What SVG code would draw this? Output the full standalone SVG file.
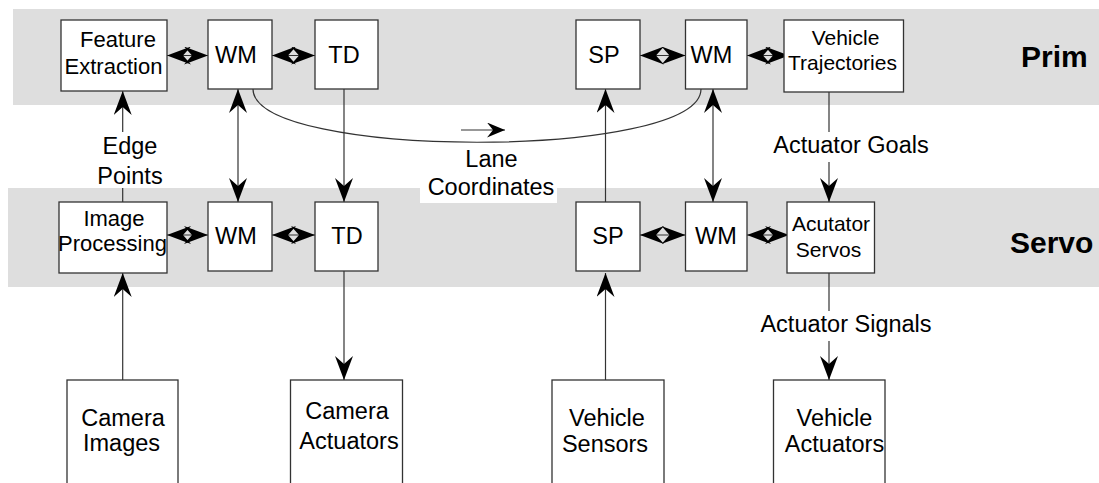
<svg xmlns="http://www.w3.org/2000/svg" width="1099" height="483" viewBox="0 0 1099 483">
  <style>
    .band { fill: #dedede; }
    .box { fill: #ffffff; stroke: #333333; stroke-width: 1.3; }
    .lbl { font-family: "Liberation Sans", Arial, sans-serif; font-size: 23.5px; fill: #000000; text-anchor: middle; }
    .sm { font-size: 21px; }
    .md { font-size: 22px; }
    .lvl { font-family: "Liberation Sans", Arial, sans-serif; font-size: 30px; font-weight: bold; fill: #000000; }
    .wire { fill: none; stroke: #333333; stroke-width: 1.2; }
    .arr { marker-end: url(#head); }
    .bi { marker-start: url(#head); marker-end: url(#head); }
  </style>
  <defs>
    <marker id="head" viewBox="0 -9 24 18" refX="24" refY="0" markerWidth="24" markerHeight="18" markerUnits="userSpaceOnUse" orient="auto-start-reverse">
      <path d="M0,-9 L24,0 L0,9 L8,0 Z" fill="#000000"/>
    </marker>
    <marker id="headS" viewBox="0 -7.5 18 15" refX="18" refY="0" markerWidth="18" markerHeight="15" markerUnits="userSpaceOnUse" orient="auto">
      <path d="M0,-7.5 L18,0 L0,7.5 L6,0 Z" fill="#000000"/>
    </marker>
  </defs>

  <!-- level bands -->
  <g id="bands">
    <rect class="band" x="13" y="9" width="1086" height="96"/>
    <rect class="band" x="8" y="188" width="1091" height="99"/>
    <text class="lvl" x="1021" y="67">Prim</text>
    <text class="lvl" x="1010" y="253">Servo</text>
  </g>

  <!-- connectors -->
  <g id="connectors">
    <!-- horizontal links, upper level -->
    <path class="wire bi" d="M167,55.5 L208,55.5"/>
    <path class="wire bi" d="M272,55.5 L315,55.5"/>
    <path class="wire bi" d="M640,55.5 L685.5,55.5"/>
    <path class="wire bi" d="M747,55.5 L789,55.5"/>
    <!-- horizontal links, lower level -->
    <path class="wire bi" d="M167,235 L208,235"/>
    <path class="wire bi" d="M272,235 L315,235"/>
    <path class="wire bi" d="M640,235 L685.5,235"/>
    <path class="wire bi" d="M747,235 L789,235"/>
    <!-- edge points -->
    <path class="wire" d="M122.7,188 L122.7,202"/>
    <path class="wire arr" d="M122.7,132 L122.7,91"/>
    <!-- world model links between levels -->
    <path class="wire bi" d="M238,89 L238,202"/>
    <path class="wire bi" d="M713,89 L713,202"/>
    <!-- task decomposition -->
    <path class="wire arr" d="M344,89 L344,202"/>
    <path class="wire arr" d="M344,271 L344,380"/>
    <!-- lane coordinates -->
    <path class="wire" d="M253,89 C253,160 701,160 701,89"/>
    <path class="wire" d="M461,130 L505,130" marker-end="url(#headS)"/>
    <!-- sensor processing -->
    <path class="wire arr" d="M605.5,380 L605.5,273"/>
    <path class="wire arr" d="M605.5,202 L605.5,89"/>
    <!-- actuator goals -->
    <path class="wire" d="M829,92 L829,132"/>
    <path class="wire arr" d="M829,162 L829,202"/>
    <!-- actuator signals -->
    <path class="wire" d="M829,273 L829,311"/>
    <path class="wire arr" d="M829,341 L829,380"/>
    <!-- camera images -->
    <path class="wire arr" d="M122.7,380 L122.7,273"/>
  </g>

  <!-- connector labels -->
  <g id="labels">
    <text class="lbl" x="130" y="154">Edge</text>
    <text class="lbl" x="130" y="184">Points</text>
    <rect x="420" y="150" width="137" height="53" fill="#ffffff"/>
    <text class="lbl" x="491.5" y="167">Lane</text>
    <text class="lbl" x="491" y="195">Coordinates</text>
    <text class="lbl" x="851" y="153">Actuator Goals</text>
    <text class="lbl" x="846" y="332">Actuator Signals</text>
  </g>

  <!-- upper level nodes -->
  <g id="feature-extraction">
    <rect class="box" x="61" y="20" width="106" height="71"/>
    <text class="lbl md" x="118" y="47">Feature</text>
    <text class="lbl md" x="113.5" y="74">Extraction</text>
  </g>
  <g id="wm-prim-left">
    <rect class="box" x="208" y="20" width="64" height="69"/>
    <text class="lbl" x="236" y="63">WM</text>
  </g>
  <g id="td-prim">
    <rect class="box" x="315" y="20" width="63" height="69"/>
    <text class="lbl" x="344" y="63">TD</text>
  </g>
  <g id="sp-prim">
    <rect class="box" x="576" y="20" width="64" height="69"/>
    <text class="lbl" x="604" y="63">SP</text>
  </g>
  <g id="wm-prim-right">
    <rect class="box" x="685.5" y="20" width="61.5" height="69"/>
    <text class="lbl" x="711.5" y="63">WM</text>
  </g>
  <g id="vehicle-trajectories">
    <rect class="box" x="784" y="20" width="119.5" height="72"/>
    <text class="lbl sm" x="845.5" y="45">Vehicle</text>
    <text class="lbl sm" x="842.5" y="70">Trajectories</text>
  </g>

  <!-- lower level nodes -->
  <g id="image-processing">
    <rect class="box" x="59" y="202" width="108" height="71"/>
    <text class="lbl md" x="114" y="226">Image</text>
    <text class="lbl md" x="112.5" y="251">Processing</text>
  </g>
  <g id="wm-servo-left">
    <rect class="box" x="208" y="202" width="64" height="69"/>
    <text class="lbl" x="236" y="244">WM</text>
  </g>
  <g id="td-servo">
    <rect class="box" x="315" y="202" width="63" height="69"/>
    <text class="lbl" x="347" y="244">TD</text>
  </g>
  <g id="sp-servo">
    <rect class="box" x="576" y="202" width="64" height="69"/>
    <text class="lbl" x="608" y="244">SP</text>
  </g>
  <g id="wm-servo-right">
    <rect class="box" x="685.5" y="202" width="61.5" height="69"/>
    <text class="lbl" x="716" y="244">WM</text>
  </g>
  <g id="actuator-servos">
    <rect class="box" x="787" y="202" width="87.5" height="71"/>
    <text class="lbl sm" x="831" y="231">Acutator</text>
    <text class="lbl sm" x="828.5" y="257">Servos</text>
  </g>

  <!-- physical devices -->
  <g id="camera-images">
    <rect class="box" x="67" y="380" width="111" height="110"/>
    <text class="lbl" x="123" y="426">Camera</text>
    <text class="lbl" x="121.5" y="451">Images</text>
  </g>
  <g id="camera-actuators">
    <rect class="box" x="290.5" y="380" width="112" height="110"/>
    <text class="lbl" x="347" y="419">Camera</text>
    <text class="lbl" x="349" y="449">Actuators</text>
  </g>
  <g id="vehicle-sensors">
    <rect class="box" x="552" y="380" width="112" height="110"/>
    <text class="lbl" x="607" y="426">Vehicle</text>
    <text class="lbl" x="605" y="452">Sensors</text>
  </g>
  <g id="vehicle-actuators">
    <rect class="box" x="773.5" y="380" width="111.5" height="110"/>
    <text class="lbl" x="834.5" y="426">Vehicle</text>
    <text class="lbl" x="834.5" y="452">Actuators</text>
  </g>
</svg>
